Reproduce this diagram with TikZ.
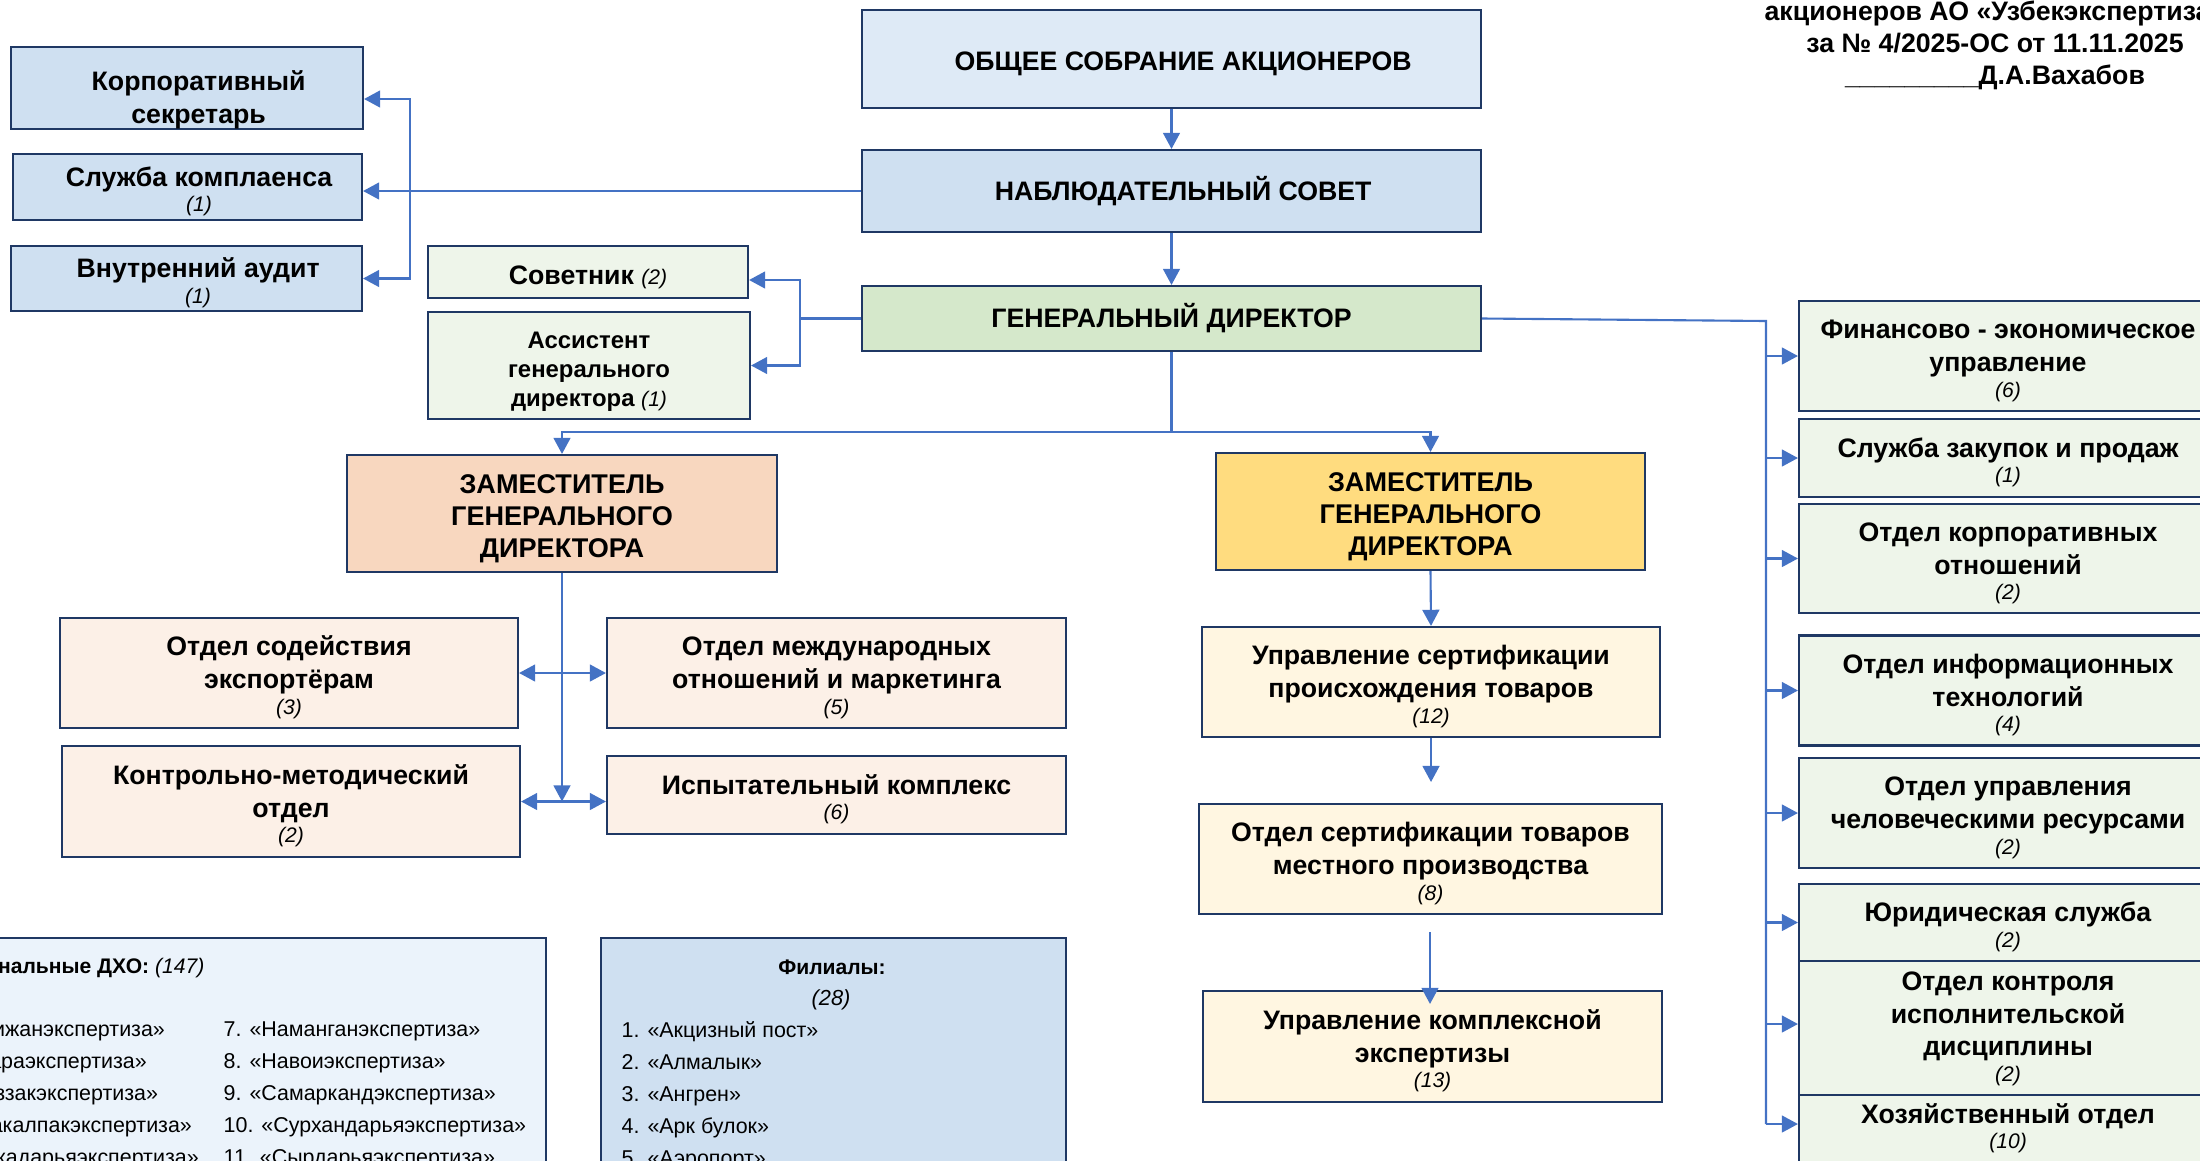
\documentclass[tikz,border=0pt]{standalone}
\usepackage{fontspec}
\setmainfont{Liberation Sans}
\usetikzlibrary{arrows.meta}

\definecolor{cNavy}{HTML}{1F3864}
\definecolor{cWire}{HTML}{4472C4}
\definecolor{cOca}{HTML}{DEEAF6}
\definecolor{cBlue}{HTML}{CFE0F1}
\definecolor{cGd}{HTML}{D5E8CB}
\definecolor{cMint}{HTML}{EEF5EA}
\definecolor{cDepA}{HTML}{F8D7BF}
\definecolor{cDepB}{HTML}{FFDC7F}
\definecolor{cPeach}{HTML}{FCF0E7}
\definecolor{cCream}{HTML}{FFF6E1}
\definecolor{cDho}{HTML}{EBF3FB}

\newcommand{\cnt}[1]{{\fontsize{6}{7}\selectfont\mdseries\itshape(#1)}}
\newcommand{\tstrut}{\rule{0pt}{8.1pt}}
\newcommand{\pad}{\hspace*{6.6pt}}

\begin{document}
\begin{tikzpicture}
\tikzstyle{every node}+=[inner sep=0pt]
\tikzstyle{box}=[draw=cNavy, line width=0.6pt, align=center, font=\fontsize{7.6}{9.3}\selectfont\bfseries]
\tikzstyle{wire}=[draw=cWire, line width=0.6pt]
\tikzstyle{wirearr}=[wire, -{Triangle[length=4.6pt,width=4.8pt]}]
\tikzstyle{wireboth}=[wire, {Triangle[length=4.6pt,width=4.8pt]}-{Triangle[length=4.6pt,width=4.8pt]}]
\tikzstyle{list}=[align=left, anchor=north west, font=\fontsize{6.1}{9.1}\selectfont]
\useasboundingbox (0,0) rectangle (22,-11.6);
\clip (0,0) rectangle (22,-11.6);
% top of the tree
\node[box, fill=cOca, minimum width=6.19cm, minimum height=0.98cm] (oca) at (11.715,-0.59) {\tstrut\pad ОБЩЕЕ СОБРАНИЕ АКЦИОНЕРОВ};
\node[box, fill=cBlue, minimum width=6.19cm, minimum height=0.82cm] (ns) at (11.715,-1.91) {\pad НАБЛЮДАТЕЛЬНЫЙ СОВЕТ};
\node[box, fill=cGd, minimum width=6.19cm, minimum height=0.65cm] (gd) at (11.715,-3.185) {ГЕНЕРАЛЬНЫЙ ДИРЕКТОР};
\node[anchor=north, align=center, font=\fontsize{7.6}{9.1}\selectfont\bfseries] (approve) at (19.95,0) {акционеров АО «Узбекэкспертиза»\\за № 4/2025-ОС от 11.11.2025\\\_\_\_\_\_\_\_\_\_Д.А.Вахабов};
% under the supervisory board
\node[box, fill=cBlue, minimum width=3.52cm, minimum height=0.80cm] (korp) at (1.87,-0.88) {\rule{0pt}{12.3pt}\pad Корпоративный\\\pad секретарь};
\node[box, fill=cBlue, minimum width=3.49cm, minimum height=0.66cm] (compl) at (1.875,-1.87) {\tstrut\pad Служба комплаенса\\[-2pt]\pad\cnt{1}};
\node[box, fill=cBlue, minimum width=3.51cm, minimum height=0.65cm] (audit) at (1.865,-2.785) {\tstrut\pad Внутренний аудит\\[-2pt]\pad\cnt{1}};
% next to the director
\node[box, fill=cMint, minimum width=3.20cm, minimum height=0.52cm] (sovet) at (5.88,-2.72) {\tstrut Советник \cnt{2}};
\node[box, fill=cMint, minimum width=3.22cm, minimum height=1.07cm, font=\fontsize{6.8}{8.3}\selectfont\bfseries] (assist) at (5.89,-3.655) {\tstrut Ассистент\\генерального\\директора \cnt{1}};
% deputies
\node[box, fill=cDepA, minimum width=4.30cm, minimum height=1.17cm, font=\fontsize{7.7}{9.1}\selectfont\bfseries] (depa) at (5.62,-5.135) {\tstrut ЗАМЕСТИТЕЛЬ\\ГЕНЕРАЛЬНОГО\\ДИРЕКТОРА};
\node[box, fill=cDepB, minimum width=4.29cm, minimum height=1.17cm, font=\fontsize{7.7}{9.1}\selectfont\bfseries] (depb) at (14.305,-5.115) {\tstrut ЗАМЕСТИТЕЛЬ\\ГЕНЕРАЛЬНОГО\\ДИРЕКТОРА};
\node[box, fill=cPeach, minimum width=4.58cm, minimum height=1.10cm] (export) at (2.89,-6.73) {\tstrut Отдел содействия\\экспортёрам\\[-2pt]\cnt{3}};
\node[box, fill=cPeach, minimum width=4.59cm, minimum height=1.10cm] (intl) at (8.365,-6.73) {\tstrut Отдел международных\\отношений и маркетинга\\[-2pt]\cnt{5}};
\node[box, fill=cPeach, minimum width=4.58cm, minimum height=1.11cm] (kontrol) at (2.91,-8.015) {\tstrut Контрольно-методический\\отдел\\[-2pt]\cnt{2}};
\node[box, fill=cPeach, minimum width=4.59cm, minimum height=0.78cm] (ispyt) at (8.365,-7.95) {\tstrut Испытательный комплекс\\[-2pt]\cnt{6}};
\node[box, fill=cCream, minimum width=4.58cm, minimum height=1.10cm] (upr) at (14.31,-6.82) {\tstrut Управление сертификации\\происхождения товаров\\[-2pt]\cnt{12}};
\node[box, fill=cCream, minimum width=4.63cm, minimum height=1.10cm] (mest) at (14.305,-8.59) {\tstrut Отдел сертификации товаров\\местного производства\\[-2pt]\cnt{8}};
\node[box, fill=cCream, minimum width=4.59cm, minimum height=1.11cm] (kompl) at (14.325,-10.465) {\tstrut Управление комплексной\\экспертизы\\[-2pt]\cnt{13}};
% right column
\node[box, fill=cMint, minimum width=4.18cm, minimum height=1.10cm] (fin) at (20.08,-3.56) {\tstrut Финансово - экономическое\\управление\\[-2pt]\cnt{6}};
\node[box, fill=cMint, minimum width=4.18cm, minimum height=0.78cm] (zak) at (20.08,-4.58) {\tstrut Служба закупок и продаж\\[-2pt]\cnt{1}};
\node[box, fill=cMint, minimum width=4.18cm, minimum height=1.09cm] (korpotn) at (20.08,-5.585) {\tstrut Отдел корпоративных\\отношений\\[-2pt]\cnt{2}};
\node[box, fill=cMint, minimum width=4.18cm, minimum height=1.10cm] (it) at (20.08,-6.905) {\tstrut Отдел информационных\\технологий\\[-2pt]\cnt{4}};
\node[box, fill=cMint, minimum width=4.18cm, minimum height=1.10cm] (hr) at (20.08,-8.13) {\tstrut Отдел управления\\человеческими ресурсами\\[-2pt]\cnt{2}};
\node[box, fill=cMint, minimum width=4.18cm, minimum height=0.96cm] (hoz) at (20.08,-11.24) {\tstrut Хозяйственный отдел\\[-2pt]\cnt{10}};
\node[box, fill=cMint, minimum width=4.18cm, minimum height=1.42cm] (disc) at (20.08,-10.24) {\tstrut Отдел контроля\\исполнительской\\дисциплины\\[-2pt]\cnt{2}};
\node[box, fill=cMint, minimum width=4.18cm, minimum height=0.77cm] (jur) at (20.08,-9.225) {\tstrut Юридическая служба\\[-2pt]\cnt{2}};
% bottom panels
\node[draw=cNavy, line width=0.6pt, fill=cDho, minimum width=6.35cm, minimum height=3.2cm, anchor=north west] (dho) at (-0.90,-9.37) {};
\node[draw=cNavy, line width=0.6pt, fill=cBlue, minimum width=4.65cm, minimum height=3.2cm, anchor=north west] (filial) at (6.00,-9.37) {};
\node[anchor=east, font=\fontsize{6}{7}\selectfont\bfseries] (dhohead) at (2.05,-9.68) {Региональные ДХО: \cnt{147}};
\node[list] (dhoa) at (-0.84,-10.21) {1. «Андижанэкспертиза»\\2. «Бухараэкспертиза»\\3. «Джиззакэкспертиза»\\4. «Каракалпакэкспертиза»\\5. «Кашкадарьяэкспертиза»};
\node[list] (dhob) at (2.23,-10.21) {7. «Наманганэкспертиза»\\8. «Навоиэкспертиза»\\9. «Самаркандэкспертиза»\\10. «Сурхандарьяэкспертиза»\\11. «Сырдарьяэкспертиза»};
\node[font=\fontsize{6}{7}\selectfont\bfseries] (filhead) at (8.32,-9.67) {Филиалы:};
\node[font=\fontsize{6.2}{7}\selectfont\itshape] (filcnt) at (8.31,-10.00) {(28)};
\node[list] (fila) at (6.21,-10.21) {1. «Акцизный пост»\\2. «Алмалык»\\3. «Ангрен»\\4. «Арк булок»\\5. «Аэропорт»};
% connectors
\draw[wirearr] (oca.south) -- (ns.north);
\draw[wirearr] (ns.south) -- (gd.north);
\coordinate (nsl) at (4.10,-1.91);
\draw[wirearr] (ns.west) -- (ns.west -| compl.east);
\draw[wirearr] (nsl) |- ([yshift=-0.11cm]korp.east);
\draw[wirearr] (nsl) |- (audit.east);
\coordinate (gdl) at (8.00,-3.185);
\draw[wire] (gd.west) -- (gdl);
\draw[wirearr] (gdl) |- ([yshift=-0.08cm]sovet.east);
\draw[wirearr] (gdl) |- (assist.east);
\coordinate (gdb) at (11.715,-4.32);
\draw[wire] (gd.south) -- (gdb);
\draw[wirearr] (gdb) -| (depa.north);
\draw[wirearr] (gdb) -| (depb.north);
\draw[wirearr] (depa.south) -- (depa.south |- kontrol.east);
\draw[wireboth] (export.east) -- (intl.west);
\draw[wireboth] (kontrol.east) -- (kontrol.east -| ispyt.west);
\draw[wirearr] (depb.south) -- (upr.north);
\coordinate (mestin) at (14.31,-7.82);
\draw[wirearr] (upr.south) -- (mestin);
\coordinate (komplin) at (14.30,-9.32);
\draw[wirearr, shorten >=-0.14cm] (komplin) -- (komplin |- kompl.north);
\coordinate (gdr) at (17.66,-3.21);
\draw[wire] (gd.east) -- (gdr) -- (gdr |- hoz.west);
\draw[wirearr] (gdr |- fin.west) -- (fin.west);
\draw[wirearr] (gdr |- zak.west) -- (zak.west);
\draw[wirearr] (gdr |- korpotn.west) -- (korpotn.west);
\draw[wirearr] (gdr |- it.west) -- (it.west);
\draw[wirearr] (gdr |- hr.west) -- (hr.west);
\draw[wirearr] (gdr |- jur.west) -- (jur.west);
\draw[wirearr] (gdr |- disc.west) -- (disc.west);
\draw[wirearr] (gdr |- hoz.west) -- (hoz.west);
\end{tikzpicture}
\end{document}
